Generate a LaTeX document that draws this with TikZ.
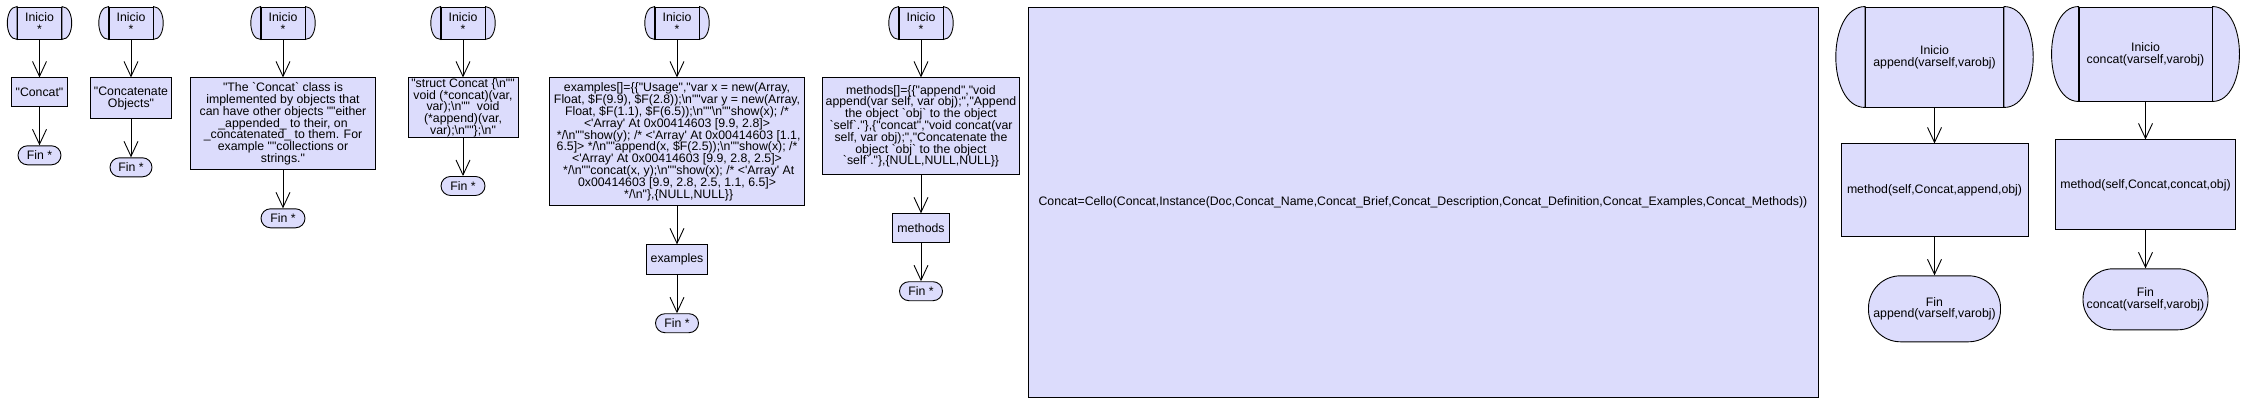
\documentclass[tikz,border=0pt]{standalone}
\usepackage{fontspec}
\setmainfont{Liberation Sans}[Ligatures=TeXOff]
\usepackage{xcolor}
\usepackage{tikz}
\usetikzlibrary{arrows.meta,positioning}
\definecolor{flowfill}{RGB}{220,220,252}
\newcommand\flowtxt{\fontsize{12.3}{11.8}\selectfont}
\newcommand\bsn{\textbackslash n}
\tikzset{
  inicio/.style={rectangle,draw=black,fill=flowfill,line width=.9pt,minimum height=32pt,inner sep=0pt,align=center,font=\flowtxt},
  proc/.style={rectangle,draw=black,fill=flowfill,line width=.9pt,inner xsep=0pt,inner ysep=.5pt,align=center,font=\flowtxt},
  fin/.style={rectangle,rounded corners=9.5pt,draw=black,fill=flowfill,line width=.9pt,minimum height=19pt,inner sep=0pt,align=center,font=\flowtxt},
  capline/.style={draw=black,fill=flowfill,line width=.9pt},
  flow/.style={line width=.9pt,-{Straight Barb[length=15pt,width=14pt]}}
}
\begin{document}
\begin{tikzpicture}[x=1pt,y=1pt,node distance=38pt]
  \useasboundingbox (0,0) rectangle (2246,-405);

  % name
  \node[inicio,minimum width=44pt] (ini1) at (39.5,-23) {Inicio\\{}*};
  \node[proc,minimum width=56pt,minimum height=29pt,below=of ini1] (txt1) {"Concat"};
  \node[fin,minimum width=43pt,below=of txt1] (fin1) {Fin *};
  \draw[flow] (ini1) -- (txt1);
  \draw[flow] (txt1) -- (fin1);

  % brief
  \node[inicio,minimum width=44pt] (ini2) at (131,-23) {Inicio\\{}*};
  \node[proc,minimum width=81pt,minimum height=41pt,below=of ini2] (txt2) {"Concatenate\\Objects"};
  \node[fin,minimum width=42pt,below=of txt2] (fin2) {Fin *};
  \draw[flow] (ini2) -- (txt2);
  \draw[flow] (txt2) -- (fin2);

  % description
  \node[inicio,minimum width=44pt] (ini3) at (283,-23) {Inicio\\{}*};
  \node[proc,minimum width=185pt,minimum height=92pt,below=of ini3] (txt3) {"The `Concat` class is\\
implemented by objects that\\
can have other objects ""either\\
\_appended\_ to their, on\\
\_concatenated\_ to them. For\\
example ""collections or\\
strings."};
  \node[fin,minimum width=44pt,below=of txt3] (fin3) {Fin *};
  \draw[flow] (ini3) -- (txt3);
  \draw[flow] (txt3) -- (fin3);

  % definition
  \node[inicio,minimum width=44pt] (ini4) at (463,-23) {Inicio\\{}*};
  \node[proc,minimum width=110pt,minimum height=59pt,below=of ini4] (txt4) {"struct Concat \{\bsn""\\
void (*concat)(var,\\
var);\bsn""\ \ void\\
(*append)(var,\\
var);\bsn""\};\bsn"};
  \node[fin,minimum width=44pt,below=of txt4] (fin4) {Fin *};
  \draw[flow] (ini4) -- (txt4);
  \draw[flow] (txt4) -- (fin4);

  % examples
  \node[inicio,minimum width=44pt] (ini5) at (677,-23) {Inicio\\{}*};
  \node[proc,minimum width=255pt,minimum height=128pt,below=of ini5] (txt5) {examples[]=\{\{"Usage","var x = new(Array,\\
Float, \$F(9.9), \$F(2.8));\bsn""var y = new(Array,\\
Float, \$F(1.1), \$F(6.5));\bsn""\bsn""show(x); /*\\
<'Array' At 0x00414603 [9.9, 2.8]>\\{}
*/\bsn""show(y); /* <'Array' At 0x00414603 [1.1,\\
6.5]> */\bsn""append(x, \$F(2.5));\bsn""show(x); /*\\
<'Array' At 0x00414603 [9.9, 2.8, 2.5]>\\{}
*/\bsn""concat(x, y);\bsn""show(x); /* <'Array' At\\
0x00414603 [9.9, 2.8, 2.5, 1.1, 6.5]>\\{}
*/\bsn"\},\{NULL,NULL\}\}};
  \node[proc,minimum width=61pt,minimum height=30pt,below=of txt5] (ex5) {examples};
  \node[fin,minimum width=43pt,below=of ex5] (fin5) {Fin *};
  \draw[flow] (ini5) -- (txt5);
  \draw[flow] (txt5) -- (ex5);
  \draw[flow] (ex5) -- (fin5);

  % methods
  \node[inicio,minimum width=44pt] (ini6) at (921,-23) {Inicio\\{}*};
  \node[proc,minimum width=197pt,minimum height=97pt,below=of ini6] (txt6) {methods[]=\{\{"append","void\\
append(var self, var obj);","Append\\
the object `obj` to the object\\
`self`."\},\{"concat","void concat(var\\
self, var obj);","Concatenate the\\
object `obj` to the object\\
`self`."\},\{NULL,NULL,NULL\}\}};
  \node[proc,minimum width=57pt,minimum height=29pt,below=of txt6] (met6) {methods};
  \node[fin,minimum width=43pt,below=of met6] (fin6) {Fin *};
  \draw[flow] (ini6) -- (txt6);
  \draw[flow] (txt6) -- (met6);
  \draw[flow] (met6) -- (fin6);

  % instance
  \node[proc,minimum width=790pt,minimum height=390pt] (cello) at (1423,-202)
    {Concat=Cello(Concat,Instance(Doc,Concat\_Name,Concat\_Brief,Concat\_Description,Concat\_Definition,Concat\_Examples,Concat\_Methods))};

  % append
  \node[inicio,minimum width=138pt,minimum height=100pt] (ini8) at (1934.5,-57) {Inicio\\append(varself,varobj)};
  \node[proc,minimum width=187pt,minimum height=93pt,below=36pt of ini8] (txt8) {method(self,Concat,append,obj)};
  \node[fin,rounded corners=32pt,minimum width=132pt,minimum height=66pt,below=of txt8] (fin8) {Fin\\append(varself,varobj)};
  \draw[flow] (ini8) -- (txt8);
  \draw[flow] (txt8) -- (fin8);

  % concat
  \node[inicio,minimum width=133pt,minimum height=94pt] (ini9) at (2145.5,-54) {Inicio\\concat(varself,varobj)};
  \node[proc,minimum width=180pt,minimum height=90pt,below=of ini9] (txt9) {method(self,Concat,concat,obj)};
  \node[fin,rounded corners=30pt,minimum width=125pt,minimum height=61pt,below=of txt9] (fin9) {Fin\\concat(varself,varobj)};
  \draw[flow] (ini9) -- (txt9);
  \draw[flow] (txt9) -- (fin9);

  % round ends of the start nodes
  \foreach \s/\k in {ini1/13,ini2/13,ini3/13,ini4/13,ini5/13,ini6/13,ini8/39,ini9/36}{
    \filldraw[capline] (\s.north west) .. controls +(-\k,0) and +(-\k,0) .. (\s.south west) -- cycle;
    \filldraw[capline] (\s.north east) .. controls +(\k,0) and +(\k,0) .. (\s.south east) -- cycle;
  }
\end{tikzpicture}
\end{document}
